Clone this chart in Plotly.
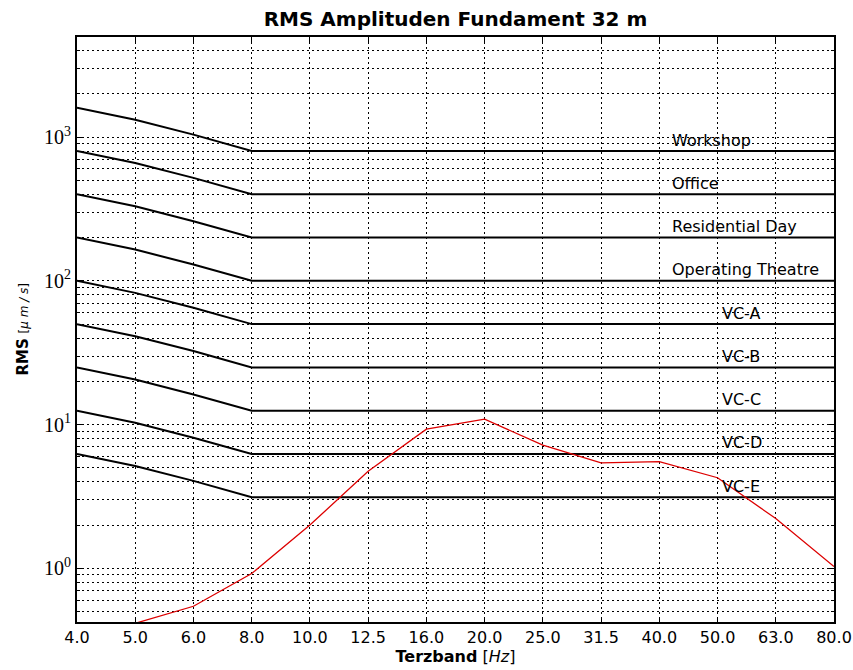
import numpy as np
import plotly.graph_objects as go

bands = ["4.0", "5.0", "6.0", "8.0", "10.0", "12.5", "16.0", "20.0",
         "25.0", "31.5", "40.0", "50.0", "63.0", "80.0"]

workshop = [1600, 1320, 1040, 800, 800, 800, 800, 800, 800, 800, 800, 800, 800, 800]
office = [800, 660, 520, 400, 400, 400, 400, 400, 400, 400, 400, 400, 400, 400]
residential_day = [400, 330, 260, 200, 200, 200, 200, 200, 200, 200, 200, 200, 200, 200]
operating_theatre = [200, 165, 130, 100, 100, 100, 100, 100, 100, 100, 100, 100, 100, 100]
vc_a = [100, 82.5, 65, 50, 50, 50, 50, 50, 50, 50, 50, 50, 50, 50]
vc_b = [50, 41.2, 32.5, 25, 25, 25, 25, 25, 25, 25, 25, 25, 25, 25]
vc_c = [25, 20.6, 16.2, 12.5, 12.5, 12.5, 12.5, 12.5, 12.5, 12.5, 12.5, 12.5, 12.5, 12.5]
vc_d = [12.5, 10.3, 8.1, 6.25, 6.25, 6.25, 6.25, 6.25, 6.25, 6.25, 6.25, 6.25, 6.25, 6.25]
vc_e = [6.25, 5.15, 4.06, 3.12, 3.12, 3.12, 3.12, 3.12, 3.12, 3.12, 3.12, 3.12, 3.12, 3.12]

measured = [0.30, 0.415, 0.545, 0.92, 2.0, 4.74, 9.3, 10.9, 7.2, 5.42, 5.53, 4.27, 2.22, 1.03]

criteria_names = ["Workshop", "Office", "Residential Day", "Operating Theatre",
                  "VC-A", "VC-B", "VC-C", "VC-D", "VC-E"]
criteria = [workshop, office, residential_day, operating_theatre,
            vc_a, vc_b, vc_c, vc_d, vc_e]

y_major = [1, 10, 100, 1000]
y_major_text = ["10<sup>0</sup>", "10<sup>1</sup>", "10<sup>2</sup>", "10<sup>3</sup>"]
y_minor = [m * 10.0 ** e for e in range(-1, 4) for m in range(2, 10)]

fig = go.Figure()

for name, vals in zip(criteria_names, criteria):
    fig.add_trace(go.Scatter(x=bands, y=vals, mode="lines", name=name,
                             line=dict(color="black", width=2), showlegend=False))

fig.add_trace(go.Scatter(x=bands, y=measured, mode="lines", name="RMS",
                         line=dict(color="#dd0000", width=1.3), showlegend=False))

for i, (name, vals) in enumerate(zip(criteria_names, criteria)):
    if i < 4:
        xi, xs = 10, 11
    else:
        xi, xs = 11, 2
    fig.add_annotation(x=xi, y=np.log10(vals[-1]), xref="x", yref="y",
                       text=name, showarrow=False, xanchor="left", yanchor="middle",
                       xshift=xs, yshift=11,
                       font=dict(family="DejaVu Sans", size=16, color="black"))

# y-axis title
fig.add_annotation(xref="paper", yref="paper", x=0, y=0.5, xshift=-55,
                   text="<b>RMS</b> <span style='font-size:12px'>[<i>μ m / s</i>]</span>",
                   textangle=-90, showarrow=False,
                   xanchor="center", yanchor="middle",
                   font=dict(family="DejaVu Sans", size=15, color="black"))

grid_style = dict(showgrid=True, gridcolor="black", gridwidth=1, griddash="2px,3px")

fig.update_layout(
    width=853, height=670,
    margin=dict(l=77, r=19, t=37, b=48),
    paper_bgcolor="white", plot_bgcolor="white",
    title=dict(text="<b>RMS Amplituden Fundament 32 m</b>", x=0.5, xref="paper",
               y=1 - 19 / 670, yref="container", xanchor="center", yanchor="middle",
               font=dict(family="DejaVu Sans", size=20, color="black")),
    xaxis=dict(type="category", range=[0, 13], **grid_style, automargin=False,
               showline=True, linecolor="black", linewidth=2, mirror="ticks",
               ticks="inside", ticklen=5, tickcolor="black",
               tickfont=dict(family="DejaVu Sans", size=16, color="black"),
               title=dict(text="<b>Terzband</b> [<i>Hz</i>]", standoff=4,
                          font=dict(family="DejaVu Sans", size=16, color="black")),
               zeroline=False),
    yaxis=dict(type="log", range=[-0.373, 3.696], **grid_style, automargin=False,
               showline=True, linecolor="black", linewidth=2, mirror="ticks",
               ticks="inside", ticklen=6, tickcolor="black",
               tickvals=y_major, ticktext=y_major_text,
               tickfont=dict(family="Liberation Serif", size=20, color="black"),
               minor=dict(tickvals=y_minor, ticks="inside", ticklen=3, tickcolor="black",
                          showgrid=True, gridcolor="black", gridwidth=1, griddash="2px,3px"),
               zeroline=False),
)

fig.write_html("out.html")
